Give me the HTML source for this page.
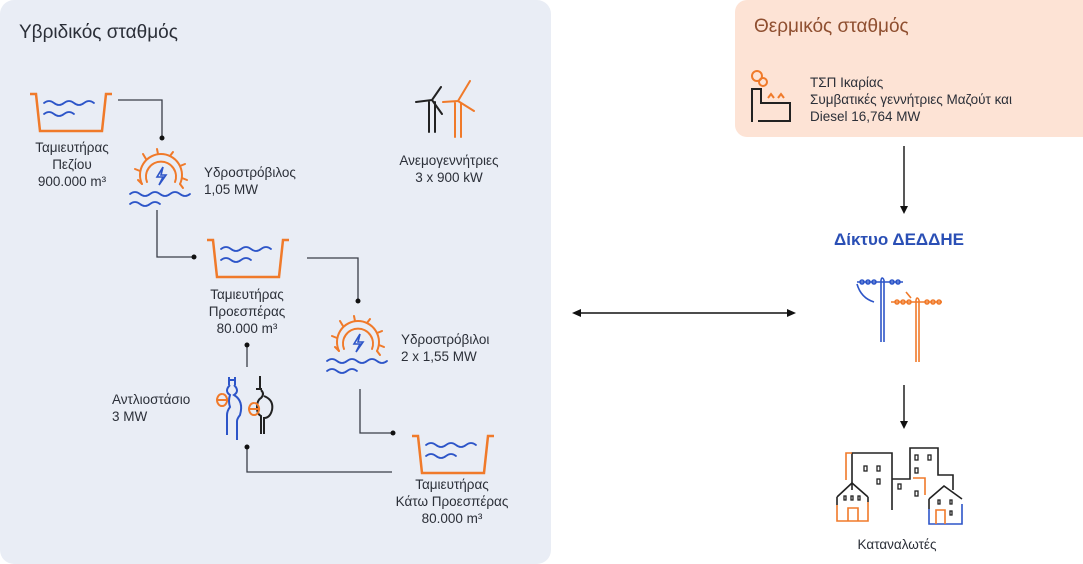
<!DOCTYPE html>
<html><head><meta charset="utf-8"><style>
html,body{margin:0;padding:0;background:#fff;}
svg{display:block;}
text{font-family:"Liberation Sans",sans-serif;fill:#2b2f38;}
</style></head><body>
<svg width="1083" height="564" viewBox="0 0 1083 564" xmlns="http://www.w3.org/2000/svg">
<defs>
<g id="tank" fill="none" stroke-width="2.5" stroke-linecap="round">
  <path d="M0,0 H6 L10,37 H72 L76,0 H82" stroke="#f07a2a" stroke-linecap="butt"/>
  <path d="M14,9 q5,-4 10,0 t10,0 t10,0 t10,0 t10,0" stroke="#2d55c8" stroke-width="1.8"/>
  <path d="M14,20 q5,-4 10,0 t10,0 t10,0" stroke="#2d55c8" stroke-width="1.8"/>
</g>
<g id="turb" fill="none" stroke-linecap="round">
  <path d="M-19,8 A21,21 0 1,1 19,8" stroke="#f07a2a" stroke-width="2"/>
  <path d="M-14,6 A15,15 0 1,1 14,6" stroke="#f07a2a" stroke-width="2"/>
  <path d="M-19,8 l-4,-4 M-21,-5 l-5,-2 M-15,-17 l-3,-5 M-3,-22 l-1,-5 M9,-20 l3,-4 M19,-10 l5,-2 M21,2 l5,2 M19,8 l3,4" stroke="#f07a2a" stroke-width="2"/>
  <path d="M2,-9 L-4,1 H2 L-2,9 L5,-1 H0 Z" stroke="#2d55c8" stroke-width="1.6"/>
  <path d="M-31,18 q5,-4 10,0 t10,0 t10,0 t10,0 t10,0 t10,0" stroke="#2d55c8" stroke-width="1.8"/>
  <path d="M-31,28 q5,-4 10,0 t10,0 t10,0" stroke="#2d55c8" stroke-width="1.8"/>
</g>
</defs>
<rect x="0" y="0" width="551" height="564" rx="14" fill="#e9edf5"/>
<rect x="735" y="0" width="360" height="137" rx="12" fill="#fde3d5"/>
<text x="19" y="38" font-size="19" fill="#3a3e48">Υβριδικός σταθμός</text>
<text x="754" y="32" font-size="19" fill="#8f4f30" style="fill:#8f4f30">Θερμικός σταθμός</text>

<use href="#tank" x="30" y="94"/>
<use href="#tank" x="207" y="240"/>
<use href="#tank" x="412" y="436"/>
<use href="#turb" x="161" y="176"/>
<use href="#turb" x="358" y="343"/>

<g stroke="#3a3e48" stroke-width="1.3" fill="none">
<path d="M118,100 H162 V137"/>
<path d="M157,210 V257 H193"/>
<path d="M307,258 H358 V300"/>
<path d="M360,389 V433 H393"/>
<path d="M247,345 V367"/>
<path d="M247,447 V472 H392"/>
</g>
<g fill="#111"><circle cx="162" cy="138" r="2.5"/><circle cx="194" cy="257" r="2.5"/><circle cx="358" cy="301" r="2.5"/><circle cx="393" cy="433" r="2.5"/><circle cx="247" cy="345" r="2.5"/><circle cx="247" cy="447" r="2.5"/></g>

<g fill="none" stroke-width="2">
<path d="M229,377 v8 M235,377 v8 M228,380 h8" stroke="#2d55c8"/>
<path d="M230,385 q-6,6 0,10 q-2,6 0,12 q-3,4 -3,8 v20 M234,385 q6,6 0,10 q10,6 6,20 q-3,4 -3,6 v19" stroke="#2d55c8"/>
<path d="M222,394 a5,6 0 1,0 0.1,0 M217,400 h10" stroke="#f07a2a"/>
<path d="M260,376 v14 M256,389 h6 M261,390 q4,4 0,8 q-4,2 -4,10 q0,6 4,8 v18 M264,396 q10,4 8,14 q-2,8 -8,8 v16" stroke="#222"/>
<path d="M254,403 a5,6 0 1,0 0.1,0 M249,409 h10" stroke="#f07a2a"/>
</g>

<g fill="none" stroke-width="2" stroke-linecap="round">
<path d="M429,132 V102 M435,132 V102 M432,100 L441,87 M432,100 L416,102 M432,100 L442,114" stroke="#222"/>
<path d="M455,137 V103 M461,137 V103 M458,101 L470,81 M458,101 L443,102 M458,101 L474,111" stroke="#f07a2a"/>
</g>

<g font-size="13.5" text-anchor="middle">
<text x="72" y="152">Ταμιευτήρας</text><text x="72" y="169">Πεζίου</text><text x="72" y="186">900.000 m³</text>
<text x="247" y="299">Ταμιευτήρας</text><text x="247" y="316">Προεσπέρας</text><text x="247" y="333">80.000 m³</text>
<text x="452" y="489">Ταμιευτήρας</text><text x="452" y="506">Κάτω Προεσπέρας</text><text x="452" y="523">80.000 m³</text>
<text x="449" y="165">Ανεμογεννήτριες</text><text x="449" y="182">3 x 900 kW</text>
<text x="897" y="549">Καταναλωτές</text>
</g>
<g font-size="13.5">
<text x="204" y="177">Υδροστρόβιλος</text><text x="204" y="194">1,05 MW</text>
<text x="401" y="344">Υδροστρόβιλοι</text><text x="401" y="361">2 x 1,55 MW</text>
<text x="112" y="404">Αντλιοστάσιο</text><text x="112" y="421">3 MW</text>
<text x="810" y="87">ΤΣΠ Ικαρίας</text><text x="810" y="104">Συμβατικές γεννήτριες Μαζούτ και</text><text x="810" y="121">Diesel 16,764 MW</text>
</g>
<text x="899" y="245" font-size="17" font-weight="bold" text-anchor="middle" style="fill:#2a4fb5">Δίκτυο ΔΕΔΔΗΕ</text>

<g fill="none" stroke-width="2">
<circle cx="757" cy="76" r="5" stroke="#f07a2a"/><circle cx="763" cy="82" r="4" stroke="#f07a2a"/>
<path d="M752,122 V89 H761 V103 H790 V121 H758" stroke="#222"/>
<path d="M768,98 l3,-4 l3,4 M778,98 l3,-4 l3,4" stroke="#f07a2a"/>
</g>

<g stroke="#111" stroke-width="1.4">
<line x1="580" y1="313" x2="788" y2="313"/>
<line x1="904" y1="146" x2="904" y2="207"/>
<line x1="904" y1="385" x2="904" y2="422"/>
</g>
<g fill="#111">
<path d="M572,313 l9,-4 v8 z"/><path d="M796,313 l-9,-4 v8 z"/>
<path d="M904,214 l-4,-8 h8 z"/><path d="M904,429 l-4,-8 h8 z"/>
</g>

<g fill="none" stroke-width="1.6">
<path d="M857,282 H903 M881,280 v62 M884,280 v62 M881,280 q1,-4 3,0" stroke="#2d55c8"/>
<circle cx="862" cy="282" r="2" stroke="#2d55c8"/><circle cx="868" cy="282" r="2" stroke="#2d55c8"/><circle cx="874" cy="282" r="2" stroke="#2d55c8"/><circle cx="892" cy="282" r="2" stroke="#2d55c8"/><circle cx="898" cy="282" r="2" stroke="#2d55c8"/>
<path d="M857,284 q4,14 17,18" stroke="#2d55c8"/>
<path d="M891,302 H942 M916,300 v62 M919,300 v62 M916,300 q1,-4 3,0 M906,292 l5,6" stroke="#f07a2a"/>
<circle cx="897" cy="302" r="2" stroke="#f07a2a"/><circle cx="903" cy="302" r="2" stroke="#f07a2a"/><circle cx="909" cy="302" r="2" stroke="#f07a2a"/><circle cx="927" cy="302" r="2" stroke="#f07a2a"/><circle cx="933" cy="302" r="2" stroke="#f07a2a"/><circle cx="939" cy="302" r="2" stroke="#f07a2a"/>
</g>

<g fill="none" stroke-width="1.6">
<path d="M852,490 V453 H892 V510" stroke="#222"/>
<path d="M846,480 V453 H852" stroke="#f07a2a"/>
<path d="M892,479 H910 V448 H938 V475 H953 V490" stroke="#222"/>
<path d="M913,478 H925 V495" stroke="#f07a2a"/>
<path d="M837,497 L852,483 L868,497 M837,497 v8 M868,497 v5" stroke="#222"/>
<path d="M837,505 v16 H868 V502 M848,521 V508 H858 V521" stroke="#f07a2a"/>
<path d="M929,499 L944,486 L962,499 M929,499 v10" stroke="#222"/>
<path d="M929,509 v15 H962 V504" stroke="#2d55c8"/>
<path d="M936,524 V510 H945 V524" stroke="#f07a2a"/>
<g stroke="#222" stroke-width="1.3">
<rect x="864" y="466" width="3" height="5"/><rect x="877" y="466" width="3" height="5"/><rect x="877" y="479" width="3" height="5"/>
<rect x="898" y="484" width="3" height="5"/><rect x="915" y="455" width="3" height="5"/><rect x="928" y="455" width="3" height="5"/><rect x="915" y="468" width="3" height="5"/>
<rect x="915" y="491" width="3" height="5"/>
<rect x="844" y="496" width="2" height="4"/><rect x="851" y="496" width="2" height="4"/><rect x="858" y="496" width="2" height="4"/>
<rect x="938" y="500" width="2" height="4"/><rect x="950" y="500" width="2" height="4"/><rect x="950" y="511" width="2" height="4"/>
</g>
</g>
</svg>
</body></html>
